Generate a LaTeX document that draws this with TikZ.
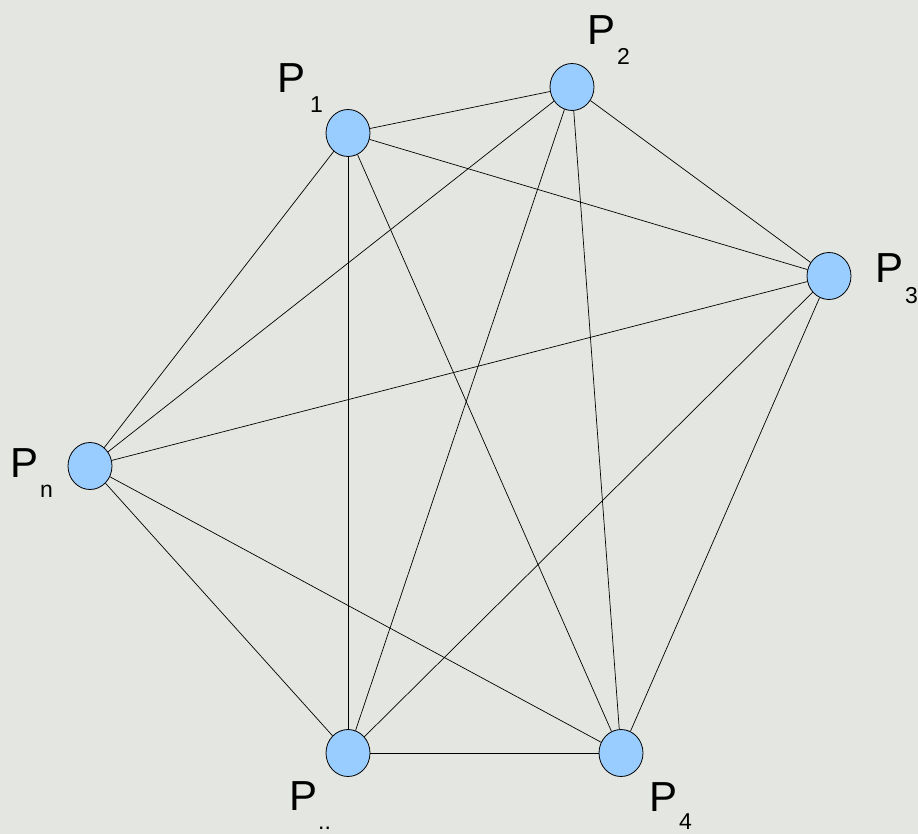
\documentclass[tikz,border=0pt]{standalone}
\usepackage{fontspec}
\setmainfont{Liberation Sans}
\usetikzlibrary{shapes.geometric}
\definecolor{bgcol}{RGB}{228,230,225}
\definecolor{nodeblue}{RGB}{153,204,255}
\tikzset{
  vertex/.style={ellipse, draw=black, line width=0.8pt, fill=nodeblue, minimum width=44pt, minimum height=47pt, inner sep=0pt},
  edge/.style={draw=black, line width=0.7pt},
  plab/.style={anchor=base west, inner sep=0pt, font=\fontsize{42}{42}\selectfont}
}
\newcommand\plabel[6]{\node[plab] (#1) at (#2,#3) {P\hspace{#5}\raisebox{#6}{\fontsize{23}{23}\selectfont #4}};}
\begin{document}
\begin{tikzpicture}[x=1pt,y=-1pt]
\useasboundingbox (0,0) rectangle (918,834);
\fill[bgcol] (0,0) rectangle (918,834);
% vertices
\node[vertex] (p1) at (348,133) {};
\node[vertex] (p2) at (572,87) {};
\node[vertex] (p3) at (829,276) {};
\node[vertex] (pn) at (90,466) {};
\node[vertex] (pd) at (348,753) {};
\node[vertex] (p4) at (621,753) {};
% edges
\foreach \a/\b in {p1/p2,p1/p3,p1/pn,p1/pd,p1/p4,p2/p3,p2/pn,p2/pd,p2/p4,p3/pn,p3/pd,p3/p4,pn/pd,pn/p4,pd/p4}
  \draw[edge] (\a) -- (\b);
% labels
\plabel{l1}{277}{93}{1}{5pt}{-20pt}
\plabel{l2}{587}{45}{2}{2pt}{-20pt}
\plabel{l3}{875}{283}{3}{2pt}{-21pt}
\plabel{ln}{10}{477}{n}{2pt}{-20pt}
\plabel{ld}{289}{810}{..}{1pt}{-19pt}
\plabel{l4}{649}{811}{4}{2pt}{-18pt}
\end{tikzpicture}
\end{document}
